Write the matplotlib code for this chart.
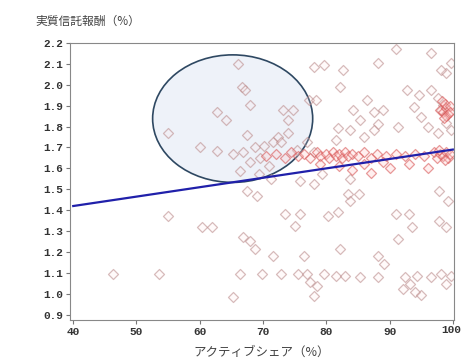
import numpy as np
import matplotlib
matplotlib.use("Agg")
import matplotlib.pyplot as plt
from matplotlib.patches import Ellipse

# scattered funds (active share %, effective fee %)
scatterX = [46.3, 53.5, 55.0, 55.0, 60.3, 62.0, 60.1,
            66.1, 66.7, 67.1, 68.0, 62.8, 64.1, 67.5,
            73.2, 74.8, 73.9, 74.0, 72.3, 75.4, 77.0, 78.0,
            62.8, 65.3, 66.9, 68.8, 70.1, 71.5, 72.8,
            68.0, 69.6, 66.4, 69.3, 70.9, 67.5, 69.1, 71.2, 75.9, 78.0, 79.4,
            78.0, 79.6, 77.2, 78.3,
            73.5, 75.9, 75.1, 80.2, 66.9, 68.0, 68.8, 71.6, 76.4,
            66.4, 69.9, 72.8, 75.6, 77.0, 77.5, 78.6, 78.0, 79.6, 65.2,
            83.8, 83.4, 85.1, 83.8, 81.8, 97.8, 99.3, 91.0, 93.0, 93.6, 91.4,
            97.8, 98.9, 82.2, 88.1, 89.1, 81.5, 83.0, 85.4, 88.1, 92.5, 94.4,
            96.5, 98.1, 98.9, 99.7, 92.2, 94.1, 93.3, 95.0,
            91.0, 96.5, 88.1, 82.7, 99.7, 98.9, 98.1, 82.2, 92.8, 94.6, 96.5,
            97.6, 86.5, 84.3, 87.5, 88.9, 85.4, 88.1, 87.5, 85.9, 83.8, 81.9,
            81.5, 91.3, 93.8, 94.9, 96.0, 98.1, 98.9, 98.5, 97.6, 99.7]
scatterY = [1.095, 1.095, 1.767, 1.37, 1.32, 1.32, 1.70,
            2.10, 1.99, 1.976, 1.905, 1.871, 1.833, 1.762,
            1.881, 1.881, 1.833, 1.771, 1.752, 1.69, 1.724, 1.676,
            1.681, 1.667, 1.676, 1.70, 1.705, 1.724, 1.724,
            1.629, 1.652, 1.586, 1.571, 1.61, 1.49, 1.467, 1.548, 1.538, 1.524, 1.571,
            2.085, 2.095, 1.929, 1.929,
            1.381, 1.381, 1.324, 1.371, 1.271, 1.252, 1.214, 1.181, 1.181,
            1.095, 1.095, 1.095, 1.095, 1.095, 1.057, 1.038, 0.99, 1.095, 0.986,
            1.548, 1.476, 1.476, 1.443, 1.39, 1.49, 1.443, 1.381, 1.381, 1.319, 1.262,
            1.348, 1.319, 1.214, 1.181, 1.143, 1.086, 1.086, 1.081, 1.081, 1.081, 1.086,
            1.081, 1.095, 1.048, 1.086, 1.024, 1.01, 1.048, 0.995,
            2.17, 2.15, 2.105, 2.07, 2.105, 2.057, 2.07, 1.99, 1.976, 1.952, 1.976,
            1.938, 1.929, 1.881, 1.871, 1.881, 1.833, 1.81, 1.786, 1.752, 1.786, 1.795,
            1.738, 1.80, 1.895, 1.848, 1.80, 1.881, 1.819, 1.905, 1.771, 1.786]

# dense band around 1.66% and cluster near 100%
bandX = [70.5, 72.0, 73.5, 74.5, 75.5, 76.5, 77.5, 78.5, 79.0, 80.0, 80.5, 81.0,
         81.5, 82.0, 82.5, 83.0, 83.5, 84.0, 85.0, 86.0, 87.0, 88.0, 89.5, 91.0,
         92.5, 94.0, 95.5, 97.0, 97.5, 98.0, 98.5, 99.0, 99.3, 99.6, 98.8, 97.8,
         79.0, 82.0, 86.0, 90.0, 93.0, 96.0, 87.0, 84.0, 89.0,
         98.0, 98.5, 99.0, 99.3, 98.8, 99.5, 98.3, 99.0, 99.6, 98.6]
bandY = [1.66, 1.67, 1.65, 1.68, 1.66, 1.67, 1.65, 1.68, 1.66, 1.67, 1.65, 1.68,
         1.66, 1.67, 1.65, 1.68, 1.66, 1.67, 1.66, 1.68, 1.65, 1.67, 1.66, 1.67,
         1.66, 1.67, 1.66, 1.68, 1.65, 1.67, 1.66, 1.68, 1.65, 1.67, 1.64, 1.69,
         1.62, 1.61, 1.62, 1.60, 1.62, 1.60, 1.58, 1.59, 1.63,
         1.88, 1.87, 1.89, 1.86, 1.91, 1.90, 1.92, 1.85, 1.87, 1.84]

# regression line end points
lineX = [40, 100]
lineY = [1.42, 1.69]

# highlighted area
ellipseCenter = (65.2, 1.838)
ellipseW = 25.3
ellipseH = 0.61

xticks = [40, 50, 60, 70, 80, 90, 100]
yticks = [0.9, 1.0, 1.1, 1.2, 1.3, 1.4, 1.5, 1.6, 1.7, 1.8, 1.9, 2.0, 2.1, 2.2]

fig = plt.figure(figsize=(4.61, 3.64), dpi=100)
ax = fig.add_axes([0.152, 0.121, 0.833, 0.761])

ell = Ellipse(ellipseCenter, ellipseW, ellipseH, angle=0,
              facecolor="#eef2f9", edgecolor="#2e4862", linewidth=1.2, zorder=1)
ax.add_patch(ell)

ax.scatter(scatterX, scatterY, marker="D", s=26,
           facecolors=(1, 0.9, 0.9, 0.2), edgecolors=(0.74, 0.56, 0.56, 0.6),
           linewidths=0.9, zorder=2)
ax.scatter(bandX, bandY, marker="D", s=26,
           facecolors=(1, 0.8, 0.8, 0.3), edgecolors=(0.85, 0.35, 0.35, 0.6),
           linewidths=0.9, zorder=2)

ax.plot(lineX, lineY, color="#2020aa", linewidth=1.6, zorder=3)

ax.set_xlim(39.5, 100.2)
ax.set_ylim(0.875, 2.2)
ax.set_xticks(xticks)
ax.set_yticks(yticks)
# last label ("100") is drawn separately so it stays inside the figure
ax.set_xticklabels([str(v) for v in xticks[:-1]] + [""])
ax.set_yticklabels(["%.1f" % v for v in yticks])

tickfont = dict(family="Liberation Mono", weight="bold", size=8, color="#333333")
for lab in ax.get_xticklabels() + ax.get_yticklabels():
    lab.set_fontfamily(tickfont["family"])
    lab.set_fontweight(tickfont["weight"])
    lab.set_fontsize(tickfont["size"])
    lab.set_color(tickfont["color"])

ax.annotate(str(xticks[-1]), xy=(xticks[-1], 0), xycoords=("data", "axes fraction"),
            xytext=(6, -3.6), textcoords="offset points", ha="right", va="top",
            **tickfont)

ax.tick_params(direction="out", length=3, width=0.8, color="#777777", pad=2)
for sp in ax.spines.values():
    sp.set_color("#888888")
    sp.set_linewidth(0.8)

jp = ["Noto Sans CJK JP", "DejaVu Sans"]
fig.text(35 / 461, 1 - 21 / 364, "実質信託報酬（%）", family=jp, fontsize=8.5,
         color="#444444", ha="left", va="center")
fig.text(262 / 461, 1 - 352 / 364, "アクティブシェア（%）", family=jp, fontsize=9,
         color="#444444", ha="center", va="center")

fig.savefig("out.png", dpi=100)
